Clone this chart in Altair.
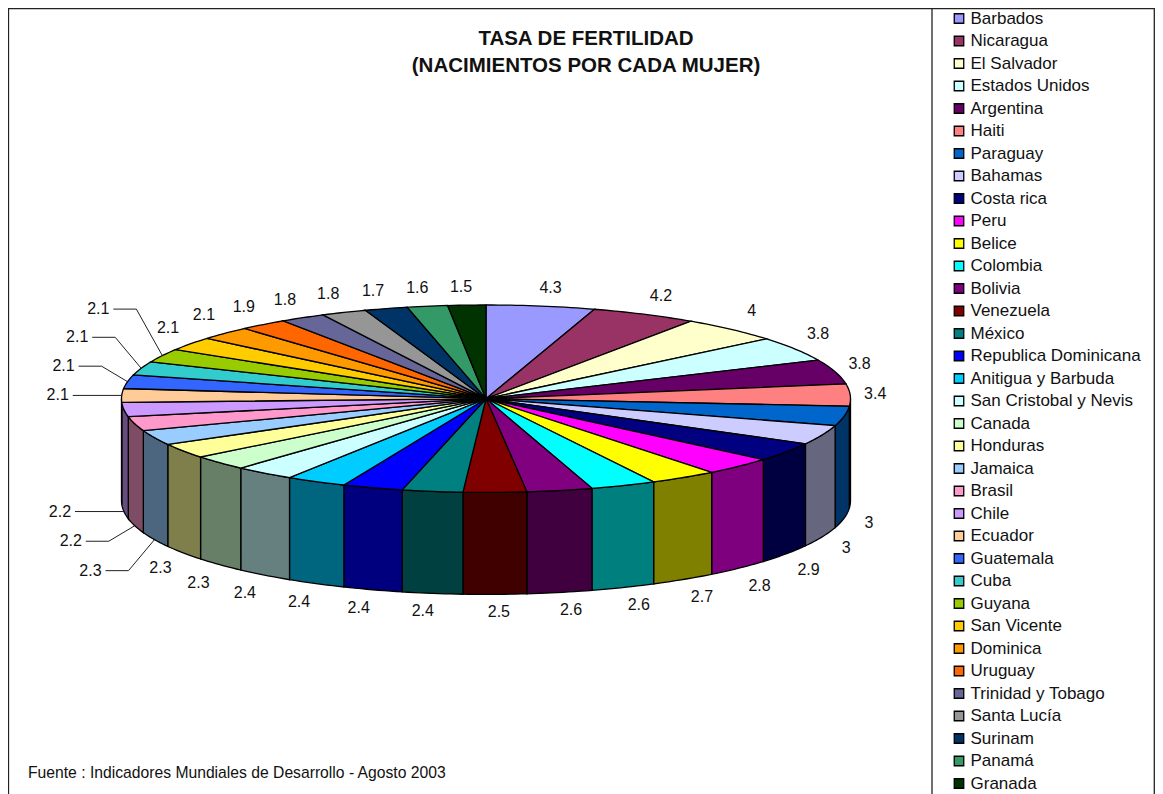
import math
import altair as alt
import pandas as pd

countries = ["Barbados", "Nicaragua", "El Salvador", "Estados Unidos", "Argentina", "Haiti", "Paraguay",
             "Bahamas", "Costa rica", "Peru", "Belice", "Colombia", "Bolivia", "Venezuela", "México",
             "Republica Dominicana", "Anitigua y Barbuda", "San Cristobal y Nevis", "Canada", "Honduras",
             "Jamaica", "Brasil", "Chile", "Ecuador", "Guatemala", "Cuba", "Guyana", "San Vicente",
             "Dominica", "Uruguay", "Trinidad y Tobago", "Santa Lucía", "Surinam", "Panamá", "Granada"]
values = [4.3, 4.2, 4, 3.8, 3.8, 3.4, 3, 3, 2.9, 2.8, 2.7, 2.6, 2.6, 2.5, 2.4, 2.4, 2.4, 2.4,
          2.3, 2.3, 2.3, 2.2, 2.2, 2.1, 2.1, 2.1, 2.1, 2.1, 2.1, 1.9, 1.8, 1.8, 1.7, 1.6, 1.5]
colors = ["#9999FF", "#993366", "#FFFFCC", "#CCFFFF", "#660066", "#FF8080", "#0066CC", "#CCCCFF",
          "#000080", "#FF00FF", "#FFFF00", "#00FFFF", "#800080", "#800000", "#008080", "#0000FF",
          "#00CCFF", "#CCFFFF", "#CCFFCC", "#FFFF99", "#99CCFF", "#FF99CC", "#CC99FF", "#FFCC99",
          "#3366FF", "#33CCCC", "#99CC00", "#FFCC00", "#FF9900", "#FF6600", "#666699", "#969696",
          "#003366", "#339966", "#003300"]
title_lines = ["TASA DE FERTILIDAD", "(NACIMIENTOS POR CADA MUJER)"]
source = "Fuente : Indicadores Mundiales de Desarrollo - Agosto 2003"
# labels that are pulled aside with a leader line: slice index -> vertical tier
leader_tier = {20: 2, 21: 1, 22: 0, 23: 0, 24: -1, 25: -2, 26: -3}

CX, CY, RX, RY, DEPTH = 486.0, 398.7, 364.5, 93.7, 102.0
LEFT, TOP, RIGHT, BOTTOM = 8.0, 8.0, 1155.0, 794.0


def darker(h):
    return "#" + "".join(f"{int(h[i:i+2], 16) // 2:02x}" for i in (1, 3, 5))


def rim(t, drop=0.0):
    return CX + RX * math.sin(t), CY - RY * math.cos(t) + drop


def arc(a, b):
    n = max(2, int(abs(b - a) / math.radians(1.0)) + 1)
    return [a + (b - a) * i / n for i in range(n + 1)]


total = sum(values)
tops, walls, labels, leaders = [], [], [], []
cum = 0.0
for i, (c, v, col) in enumerate(zip(countries, values, colors)):
    a = cum / total * 2 * math.pi
    b = (cum + v) / total * 2 * math.pi
    m = (a + b) / 2
    cum += v
    pts = [(CX, CY)] + [rim(t) for t in arc(a, b)]
    for k, (x, y) in enumerate(pts):
        tops.append({"name": c, "i": i, "v": k, "x": x, "y": y})
    lo, hi = max(a, math.pi / 2), min(b, 3 * math.pi / 2)
    if lo < hi:
        ts = arc(lo, hi)
        pts = [rim(t) for t in ts] + [rim(t, DEPTH) for t in reversed(ts)]
        for k, (x, y) in enumerate(pts):
            walls.append({"i": i, "v": k, "x": x, "y": y, "wall": darker(col)})
    sn, cs = math.sin(m), math.cos(m)
    ex, ey = rim(m, DEPTH if cs < 0 else 0.0)
    if i in leader_tier:
        dy = leader_tier[i] * 15.5
        path = [(ex, ey), (ex - 26, ey + dy), (ex - 49, ey + dy)] if dy else [(ex, ey), (ex - 49, ey)]
        for k, (x, y) in enumerate(path):
            leaders.append({"i": i, "v": k, "x": x, "y": y})
        labels.append({"t": f"{v:g}", "x": ex - 64, "y": ey + dy})
    else:
        dx = 25 * math.copysign(abs(sn) ** 0.5, sn)
        dyy = 18 * min(1, abs(cs) / 0.65) * (-1 if cs > 0 else 1)
        labels.append({"t": f"{v:g}", "x": ex + dx, "y": ey + dyy})

FONT = "Liberation Sans"
xs = alt.Scale(domain=[LEFT, RIGHT], nice=False, zero=False)
ys = alt.Scale(domain=[BOTTOM, TOP], nice=False, zero=False)
X = alt.X("x:Q", scale=xs, axis=None)
Y = alt.Y("y:Q", scale=ys, axis=None)

wall_layer = alt.Chart(pd.DataFrame(walls)).mark_line(
    filled=True, interpolate="linear-closed", stroke="black", strokeWidth=1.3, clip=False
).encode(x=X, y=Y, detail="i:N", order="v:Q", fill=alt.Fill("wall:N", scale=None))

top_layer = alt.Chart(pd.DataFrame(tops)).mark_line(
    filled=True, interpolate="linear-closed", stroke="black", strokeWidth=1.3, clip=False
).encode(
    x=X, y=Y, detail="i:N", order="v:Q",
    fill=alt.Fill(
        "name:N",
        scale=alt.Scale(domain=countries, range=colors),
        sort=countries,
        legend=alt.Legend(
            title=None, orient="none", legendX=942.5, legendY=2, columns=1, symbolLimit=0,
            symbolType="square", symbolSize=90, symbolStrokeColor="black", symbolStrokeWidth=1.3,
            labelFont=FONT, labelFontSize=17, labelColor="#111111", labelOffset=3, labelLimit=300,
            rowPadding=4.5, padding=0,
        ),
    ),
)

leader_layer = alt.Chart(pd.DataFrame(leaders)).mark_line(color="#222222", strokeWidth=1, clip=False).encode(
    x=X, y=Y, detail="i:N", order="v:Q"
)
label_layer = alt.Chart(pd.DataFrame(labels)).mark_text(
    font=FONT, fontSize=16, color="#111111", align="center", baseline="middle"
).encode(x=X, y=Y, text="t:N")

frame = pd.DataFrame([
    {"x": LEFT + 0.5, "x2": LEFT + 0.5, "y": TOP + 0.5, "y2": BOTTOM},
    {"x": LEFT, "x2": RIGHT - 0.7, "y": TOP + 0.5, "y2": TOP + 0.5},
    {"x": 932, "x2": 932, "y": TOP, "y2": BOTTOM},
    {"x": RIGHT - 0.7, "x2": RIGHT - 0.7, "y": TOP, "y2": BOTTOM},
])
frame_layer = alt.Chart(frame).mark_rule(color="#222222", strokeWidth=1.3).encode(x=X, y=Y, x2="x2:Q", y2="y2:Q")

title_df = pd.DataFrame({"t": title_lines, "x": [586, 586], "y": [39, 66]})
title_layer = alt.Chart(title_df).mark_text(
    font=FONT, fontSize=20.5, fontWeight="bold", color="#111111", align="center", baseline="middle"
).encode(x=X, y=Y, text="t:N")
source_layer = alt.Chart(pd.DataFrame({"t": [source], "x": [28], "y": [773]})).mark_text(
    font=FONT, fontSize=15.7, color="#111111", align="left", baseline="middle"
).encode(x=X, y=Y, text="t:N")

chart = alt.layer(
    frame_layer, wall_layer, top_layer, leader_layer, label_layer, title_layer, source_layer
).properties(width=1147, height=786, padding=0, autosize=alt.AutoSizeParams(type="none")).configure_view(stroke=None)

chart.save("out.html", embed_options={"renderer": "svg", "actions": False})
